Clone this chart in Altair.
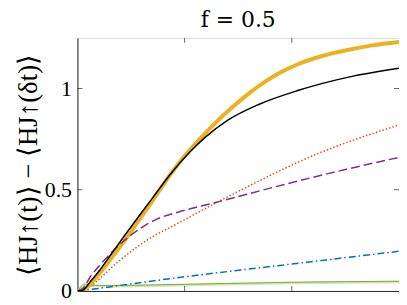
import altair as alt
import pandas as pd

# ---- data ----
x_black = [0, 0.046, 0.074, 0.111, 0.204, 0.306, 0.435, 0.574, 0.694, 0.880, 1.037, 1.194, 1.407, 1.685, 2.056, 2.519, 3.0]
y_black = [0, 0.003, 0.015, 0.04, 0.10, 0.175, 0.27, 0.37, 0.455, 0.585, 0.68, 0.76, 0.845, 0.92, 0.99, 1.055, 1.10]

x_yellow = [0, 0.046, 0.074, 0.111, 0.204, 0.306, 0.435, 0.574, 0.694, 0.880, 1.037, 1.194, 1.407, 1.574, 1.685, 1.85, 2.056, 2.3, 2.519, 2.75, 3.0]
y_yellow = [0, 0.002, 0.01, 0.03, 0.085, 0.155, 0.245, 0.35, 0.44, 0.585, 0.69, 0.78, 0.89, 0.965, 1.01, 1.067, 1.12, 1.163, 1.19, 1.213, 1.23]

x_purple = [0, 0.046, 0.12, 0.23, 0.46, 0.62, 0.74, 0.944, 1.31, 1.96, 2.5, 3.0]
y_purple = [0, 0.01, 0.07, 0.14, 0.26, 0.32, 0.355, 0.39, 0.44, 0.53, 0.60, 0.66]

x_orange = [0, 0.06, 0.16, 0.37, 0.74, 0.85, 1.31, 1.7, 2.16, 3.0]
y_orange = [0, 0.005, 0.04, 0.14, 0.28, 0.31, 0.44, 0.545, 0.66, 0.82]

x_blue = [0, 0.1, 0.5, 1.0, 1.87, 3.0]
y_blue = [0, 0.006, 0.035, 0.07, 0.125, 0.196]

x_green = [0, 0.03, 0.06, 0.1, 0.16, 0.3, 1.0, 2.0, 3.0]
y_green = [0, 0.02, 0.034, 0.033, 0.028, 0.027, 0.033, 0.043, 0.048]
y_green_light = [0, 0.012, 0.024, 0.026, 0.024, 0.023, 0.029, 0.039, 0.044]

y_tick_values = [0, 0.5, 1]
x_tick_values = [1, 2]

W, H = 324, 255
FRAME = "#262626"
SERIF = "Liberation Serif"
TSERIF = "DejaVu Serif"

xs = alt.Scale(domain=[0, 3], nice=False)
ys = alt.Scale(domain=[0, 1.25], nice=False)

xaxis = alt.Axis(values=x_tick_values, labels=False, ticks=False, grid=False,
                 title="", domainColor=FRAME)
yaxis = alt.Axis(values=y_tick_values, format="~g", ticks=False, grid=False,
                 title="⟨HJ↑(t)⟩ − ⟨HJ↑(δt)⟩",
                 labelFont=SERIF, labelFontSize=22, labelColor="black",
                 labelPadding=6,
                 titleFont=SERIF, titleFontSize=27, titleFontWeight="normal",
                 titleColor="black", titlePadding=2, domainColor=FRAME)


def line(xv, yv, color, width, dash=None, opacity=1.0):
    df = pd.DataFrame({"x": xv, "y": yv})
    kw = dict(color=color, strokeWidth=width, interpolate="monotone",
              clip=True, opacity=opacity)
    if dash:
        kw["strokeDash"] = dash
    return alt.Chart(df).mark_line(**kw).encode(
        x=alt.X("x:Q", scale=xs, axis=xaxis),
        y=alt.Y("y:Q", scale=ys, axis=yaxis),
    )


yt = pd.DataFrame({"v": y_tick_values[1:]})
xt = pd.DataFrame({"v": x_tick_values})
tick_kw = dict(size=5, thickness=1, color=FRAME)
left_t = alt.Chart(yt).mark_tick(orient="horizontal", xOffset=2.5, **tick_kw).encode(
    y=alt.Y("v:Q", scale=ys, axis=yaxis), x=alt.value(0))
right_t = alt.Chart(yt).mark_tick(orient="horizontal", xOffset=-2.5, **tick_kw).encode(
    y=alt.Y("v:Q", scale=ys, axis=yaxis), x=alt.value(W))
bot_t = alt.Chart(xt).mark_tick(orient="vertical", yOffset=-2.5, **tick_kw).encode(
    x=alt.X("v:Q", scale=xs, axis=xaxis), y=alt.value(H))
top_t = alt.Chart(xt).mark_tick(orient="vertical", yOffset=2.5, **tick_kw).encode(
    x=alt.X("v:Q", scale=xs, axis=xaxis), y=alt.value(0))

layers = [
    line(x_green, y_green_light, "#c9e0a8", 2.5, opacity=0.8),
    line(x_green, y_green, "#77AC30", 1),
    line(x_blue, y_blue, "#0072BD", 1.5, [7, 3, 1.5, 3]),
    line(x_orange, y_orange, "#D95319", 1.5, [1.5, 2]),
    line(x_yellow, y_yellow, "#EDB120", 4),
    line(x_purple, y_purple, "#7E2F8E", 1.5, [9, 4]),
    line(x_black, y_black, "#000000", 1.5),
    left_t, right_t, bot_t, top_t,
]

chart = alt.layer(*layers).properties(
    width=W, height=H,
    title=alt.Title("f = 0.5", font=TSERIF, fontSize=22, fontWeight="normal",
                    color="black", offset=6, anchor="middle"),
    autosize=alt.AutoSizeParams(type="none"),
    padding={"left": 70, "top": 29, "right": 0, "bottom": 12},
).configure_view(stroke=FRAME, strokeWidth=1).configure_title(
    font=TSERIF, fontSize=22, fontWeight="normal", color="black"
).configure(background="white")

chart.save("out.html", embed_options={"renderer": "svg", "actions": False})
